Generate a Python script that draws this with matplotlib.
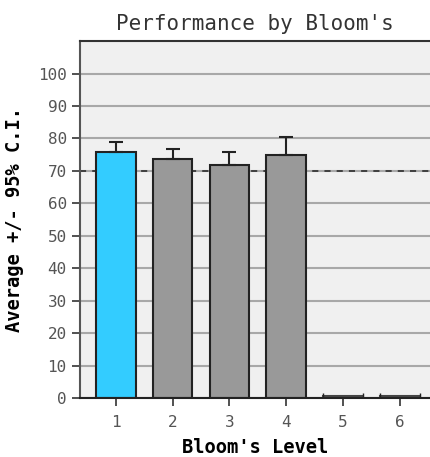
import numpy as np
import matplotlib.pyplot as plt

# Bloom's levels and average scores (with upper 95% C.I. half width)
levels = ["1", "2", "3", "4", "5", "6"]
averages = [75.9, 73.8, 71.9, 75.0, 0, 0]
ci = [2.9, 3.1, 3.8, 5.4, 0, 0]
bar_colors = ["#33ccff", "#999999", "#999999", "#999999", "#999999", "#999999"]
target = 70

fig = plt.figure(figsize=(4.3, 4.57), dpi=100)
ax = fig.add_axes([0.186, 0.129, 0.814, 0.781])
ax.set_facecolor("#f0f0f0")

x = np.arange(1, len(levels) + 1)
ax.set_ylim(0, 110)
ax.set_xlim(0.37, 6.53)
ax.set_yticks(range(0, 101, 10))
ax.yaxis.grid(True, color="#a8a8a8", linewidth=1.5)
ax.set_axisbelow(True)

ax.axhline(target, color="#222222", linestyle=(0, (4, 4)), linewidth=1.1, zorder=1)
ax.bar(x, averages, width=0.7, color=bar_colors, edgecolor="#222222", linewidth=1.5, zorder=2)
# only the upper half of the interval shows above the bar
has_ci = np.array(ci) > 0
ax.errorbar(x[has_ci], np.array(averages)[has_ci], yerr=[np.zeros(has_ci.sum()), np.array(ci)[has_ci]],
            fmt="none", ecolor="#222222", elinewidth=1.5, capsize=5, capthick=1.5, zorder=3)
# empty levels drawn as flat marks with small end ticks
for xi in x[~has_ci]:
    ax.plot([xi - 0.35, xi + 0.35], [0.6, 0.6], color="#444444", linewidth=1.5, zorder=3)
    ax.plot([xi - 0.35, xi + 0.35], [0.6, 0.6], linestyle="none", marker="|", markersize=5, color="#222222", zorder=3)

ax.set_xticks(x)
ax.set_xticklabels(levels)
ax.spines["right"].set_visible(False)
ax.spines["left"].set_color("#555555")
ax.spines["left"].set_linewidth(1.5)
ax.spines["top"].set_color("#333333")
ax.spines["top"].set_linewidth(1.5)
ax.spines["bottom"].set_color("#222222")
ax.spines["bottom"].set_linewidth(1.5)
ax.tick_params(axis="both", length=6, width=1.2, color="#333333", labelcolor="#555555", labelsize=11.5)
ax.tick_params(axis="x", pad=6)
for lab in ax.get_xticklabels() + ax.get_yticklabels():
    lab.set_family("DejaVu Sans Mono")

ax.set_title("Performance by Bloom's", family="DejaVu Sans Mono", fontsize=15, color="#333333", pad=8)
ax.set_xlabel("Bloom's Level", family="DejaVu Sans Mono", fontweight="bold", fontsize=13.5, labelpad=6)
ax.set_ylabel("Average +/- 95% C.I.", family="DejaVu Sans Mono", fontweight="bold", fontsize=13.5, labelpad=10)

fig.savefig("out.png", dpi=100)
